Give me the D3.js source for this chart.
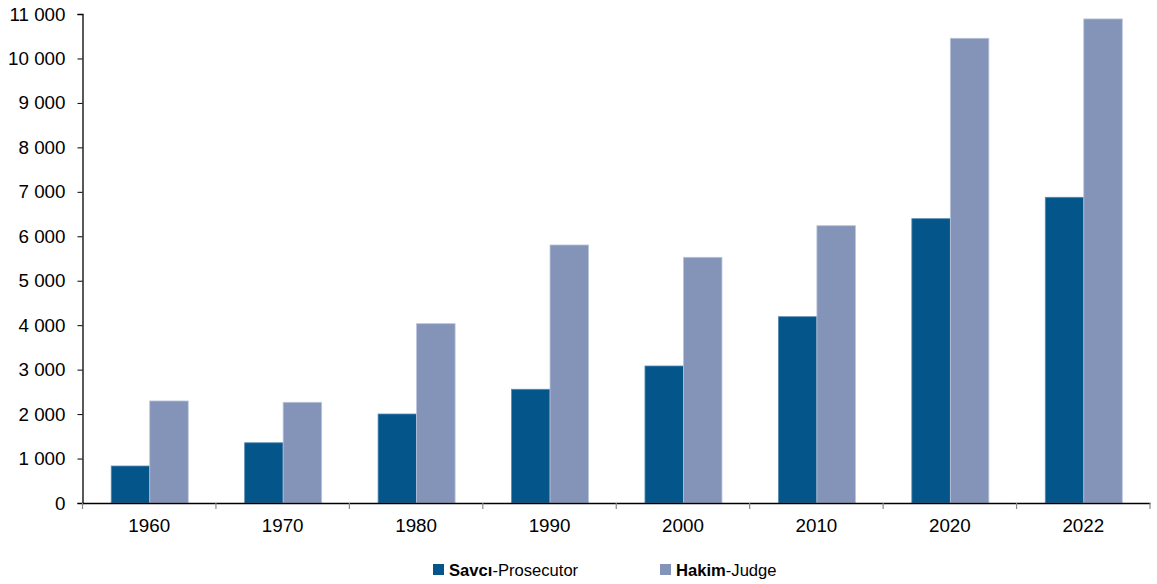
<!DOCTYPE html>
<html><head><meta charset="utf-8">
<script src="https://cdn.jsdelivr.net/npm/d3@7"></script>
<style>body{margin:0;background:#fff}svg{display:block;font-family:"Liberation Sans",Arial,sans-serif}</style>
</head><body>
<svg id="c" width="1157" height="584"></svg>
<script>
const years = ["1960","1970","1980","1990","2000","2010","2020","2022"];
const prosecutor = [832, 1355, 2002, 2558, 3082, 4191, 6396, 6877];
const judge = [2295, 2265, 4034, 5804, 5527, 6238, 10454, 10889];
const yTicks = [0,1000,2000,3000,4000,5000,6000,7000,8000,9000,10000,11000];
const seriesNames = [["Savcı","-Prosecutor"],["Hakim","-Judge"]];
const colors = ["#03558A","#8494B8"];
const strokes = ["#5a8bb0","#b9c3dc"];

const svg = d3.select("#c");
const L = 82.5, R = 1150, T = 14, B = 503;
const x = d3.scaleBand().domain(years).range([L, R]);
const y = d3.scaleLinear().domain([0, 11000]).range([B, T]);
const bw = 38.5;

const fmt = v => d3.format(",")(v).replace(/,/g, " ");

// bars
const series = [prosecutor, judge];
series.forEach((vals, si) => {
  svg.append("g").selectAll("rect").data(vals).join("rect")
    .attr("x", (d, i) => x(years[i]) + x.bandwidth()/2 - bw + si*bw + 0.5)
    .attr("y", d => y(d))
    .attr("width", bw)
    .attr("height", d => B - y(d))
    .attr("fill", colors[si])
    .attr("stroke", strokes[si]).attr("stroke-width", 0.8);
});

// y axis
const ya = svg.append("g").attr("transform", `translate(${L},0)`)
  .call(d3.axisLeft(y).tickValues(yTicks).tickFormat(fmt).tickSize(5).tickPadding(12));
ya.select(".domain").attr("stroke", "#000").attr("stroke-width", 1.3);
ya.selectAll(".tick line").attr("stroke", "#000");
ya.selectAll("text").attr("font-size", 18.8).attr("fill", "#000").attr("font-family", "Liberation Sans, Arial, sans-serif");

// x axis
const xa = svg.append("g").attr("transform", `translate(0,${B})`)
  .call(d3.axisBottom(x).tickSize(0).tickPadding(16));
xa.select(".domain").attr("stroke", "#000").attr("stroke-width", 1.5);
xa.selectAll("text").attr("font-size", 18.8).attr("fill", "#000").attr("font-family", "Liberation Sans, Arial, sans-serif");
// category boundary ticks
const bounds = years.map(yr => x(yr)).concat([R]);
svg.append("g").selectAll("line").data(bounds).join("line")
  .attr("x1", d => d).attr("x2", d => d).attr("y1", B).attr("y2", B + 6)
  .attr("stroke", "#888").attr("stroke-width", 1.2);

// legend
const legX = [433, 660];
seriesNames.forEach((nm, i) => {
  const g = svg.append("g").attr("transform", `translate(${legX[i]},564)`);
  g.append("rect").attr("width", 11).attr("height", 11).attr("fill", colors[i]);
  const t = g.append("text").attr("x", 16).attr("y", 11.5).attr("font-size", 16.6).attr("fill", "#000");
  t.append("tspan").attr("font-weight", "bold").text(nm[0]);
  t.append("tspan").text(nm[1]);
});
</script>
</body></html>
